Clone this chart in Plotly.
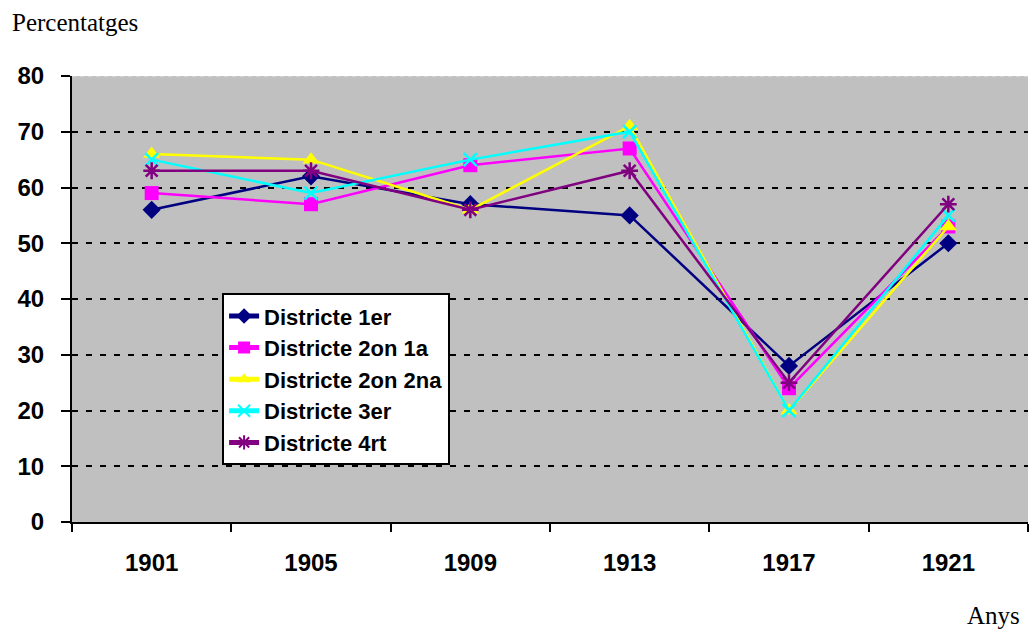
import plotly.graph_objects as go

years = ["1901", "1905", "1909", "1913", "1917", "1921"]
series_names = ["Districte 1er", "Districte 2on 1a", "Districte 2on 2na", "Districte 3er", "Districte 4rt"]
d1 = [56, 62, 57, 55, 28, 50]
d2a = [59, 57, 64, 67, 24, 53]
d2b = [66, 65, 56, 71, 20, 53]
d3 = [65, 59, 65, 70, 20, 55]
d4 = [63, 63, 56, 63, 25, 57]
y_ticks = [0, 10, 20, 30, 40, 50, 60, 70, 80]

values = [d1, d2a, d2b, d3, d4]
colors = ["#000080", "#FF00FF", "#FFFF00", "#00FFFF", "#800080"]
symbols = ["diamond", "square", "triangle-up", "x-thin", "asterisk"]
sizes = [14, 14, 15, 13, 14]

fig = go.Figure()
for name, vals, c, s, sz in zip(series_names, values, colors, symbols, sizes):
    thin = s in ("x-thin", "asterisk")
    fig.add_trace(go.Scatter(
        x=years, y=vals, name=name, mode="lines+markers",
        line=dict(color=c, width=2.5),
        marker=dict(symbol=s, size=sz, color=c,
                    line=dict(color=c, width=2.5 if thin else 0)),
    ))

fig.add_shape(type="line", xref="paper", yref="y", x0=0, x1=1, y0=80, y1=80,
              line=dict(color="#E8E8E8", width=1, dash="4px,4px"), layer="above")

fig.update_layout(
    width=1029, height=629,
    margin=dict(l=72, r=1, t=76, b=107),
    paper_bgcolor="white", plot_bgcolor="#C0C0C0",
    font=dict(family="Arial, Liberation Sans", size=24, color="black"),
    showlegend=True,
    legend=dict(x=0.157, y=0.513, xanchor="left", yanchor="top",
                bgcolor="white", bordercolor="black", borderwidth=2,
                font=dict(family="Arial, Liberation Sans", size=22, color="black", weight="bold"),
                tracegroupgap=0, itemsizing="constant"),
    xaxis=dict(type="category", range=[-0.5, 5.5], tickson="boundaries",
               ticks="outside", ticklen=8, tickwidth=2, tickcolor="black",
               showline=True, linecolor="black", linewidth=2,
               showgrid=False, tickfont=dict(size=24, weight="bold"),
               ticklabelstandoff=18),
    yaxis=dict(range=[0, 80], tickvals=y_ticks, ticks="outside", ticklen=9,
               tickwidth=2, tickcolor="black", showline=True, linecolor="black",
               linewidth=2, showgrid=True, gridcolor="black", gridwidth=2,
               griddash="6px,8px", zeroline=False,
               tickfont=dict(size=24, weight="bold"), ticklabelstandoff=12),
    annotations=[
        dict(text="Percentatges", xref="paper", yref="paper", x=-0.0649, y=1.0,
             yshift=54, xanchor="left", yanchor="middle", showarrow=False,
             font=dict(family="Times New Roman, Liberation Serif", size=25)),
        dict(text="Anys", xref="paper", yref="paper", x=0.9937, y=0, yshift=-93,
             xanchor="right", yanchor="middle", showarrow=False,
             font=dict(family="Times New Roman, Liberation Serif", size=25)),
    ],
)

fig.write_html("out.html", config={"displayModeBar": False},
               post_script="document.body.style.margin='0';document.body.style.overflow='hidden';")
